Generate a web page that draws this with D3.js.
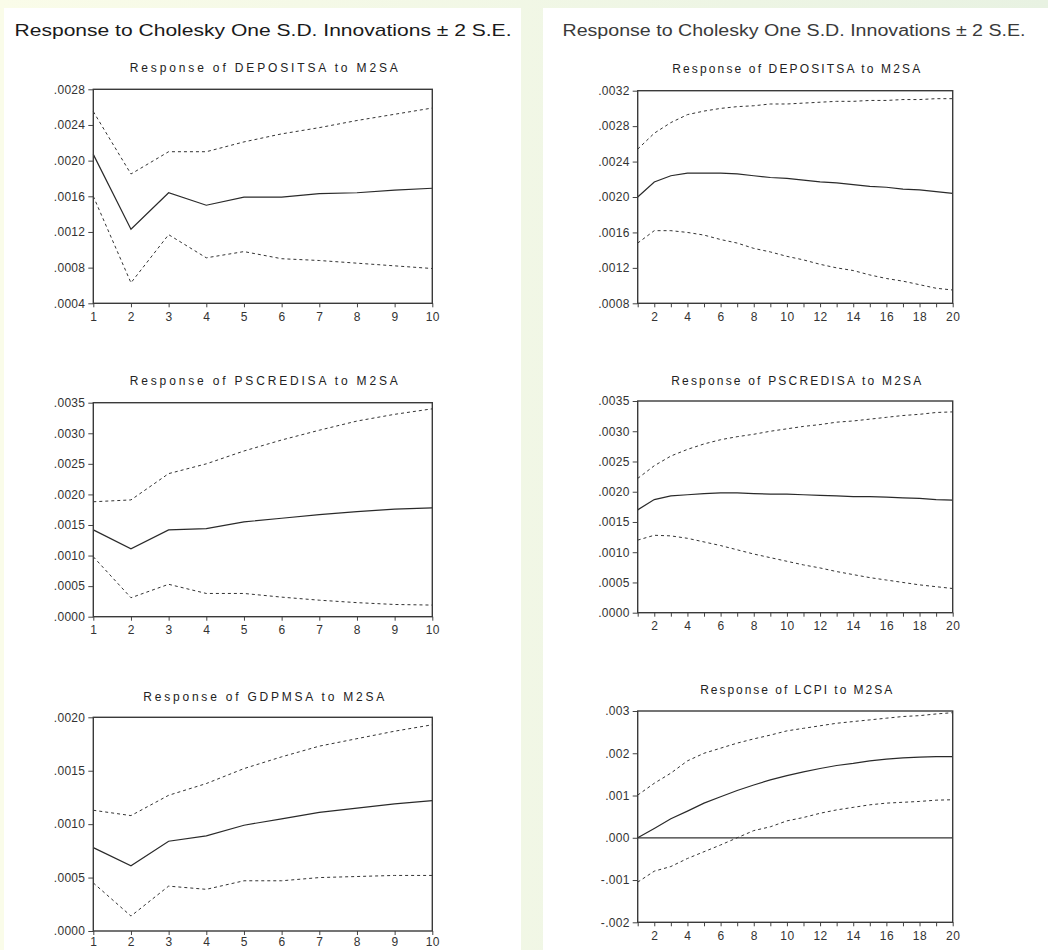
<!DOCTYPE html>
<html>
<head>
<meta charset="utf-8">
<script src="https://cdn.jsdelivr.net/npm/d3@7"></script>
<style>
  html, body { margin: 0; padding: 0; }
  body { width: 1048px; height: 950px; overflow: hidden; }
  svg text { font-family: "Liberation Sans", Arial, sans-serif; fill: #222; }
</style>
</head>
<body>
<svg id="chart" width="1048" height="950"></svg>
<script>
// ---------------- DATA ----------------
const mainTitle = "Response to Cholesky One S.D. Innovations \u00b1 2 S.E.";

const periodsShort = [1, 2, 3, 4, 5, 6, 7, 8, 9, 10];
const periodsLong = [1, 2, 3, 4, 5, 6, 7, 8, 9, 10, 11, 12, 13, 14, 15, 16, 17, 18, 19, 20];

// Left column (10 periods)
const depositShortMid = [0.00207, 0.00123, 0.00164, 0.00150, 0.00159, 0.00159, 0.00163, 0.00164, 0.00167, 0.00169];
const depositShortUp  = [0.00255, 0.00185, 0.00210, 0.00210, 0.00221, 0.00230, 0.00237, 0.00245, 0.00252, 0.00259];
const depositShortLo  = [0.00160, 0.00063, 0.00117, 0.00091, 0.00098, 0.00090, 0.00088, 0.00085, 0.00082, 0.00079];

const creditShortMid = [0.00142, 0.00111, 0.00142, 0.00144, 0.00155, 0.00161, 0.00167, 0.00172, 0.00176, 0.00178];
const creditShortUp  = [0.00188, 0.00191, 0.00234, 0.00250, 0.00271, 0.00289, 0.00305, 0.00320, 0.00331, 0.00340];
const creditShortLo  = [0.00098, 0.00031, 0.00053, 0.00038, 0.00038, 0.00032, 0.00027, 0.00023, 0.00020, 0.00019];

const gdpShortMid = [0.00078, 0.00061, 0.00084, 0.00089, 0.00099, 0.00105, 0.00111, 0.00115, 0.00119, 0.00122];
const gdpShortUp  = [0.00113, 0.00108, 0.00127, 0.00138, 0.00152, 0.00163, 0.00173, 0.00180, 0.00187, 0.00193];
const gdpShortLo  = [0.00045, 0.00014, 0.00042, 0.00039, 0.00047, 0.00047, 0.00050, 0.00051, 0.00052, 0.00052];

// Right column (20 periods)
const depositLongMid = [0.00200, 0.00217, 0.00224, 0.00227, 0.00227, 0.00227, 0.00226, 0.00224, 0.00222, 0.00221,
                        0.00219, 0.00217, 0.00216, 0.00214, 0.00212, 0.00211, 0.00209, 0.00208, 0.00206, 0.00204];
const depositLongUp  = [0.00254, 0.00272, 0.00284, 0.00293, 0.00297, 0.00300, 0.00302, 0.00303, 0.00305, 0.00305,
                        0.00306, 0.00307, 0.00308, 0.00308, 0.00309, 0.00309, 0.00310, 0.00310, 0.00311, 0.00311];
const depositLongLo  = [0.00148, 0.00162, 0.00162, 0.00160, 0.00157, 0.00152, 0.00148, 0.00142, 0.00138, 0.00133,
                        0.00129, 0.00124, 0.00120, 0.00117, 0.00112, 0.00108, 0.00105, 0.00101, 0.00097, 0.00095];

const creditLongMid = [0.00170, 0.00187, 0.00193, 0.00195, 0.00197, 0.00198, 0.00198, 0.00197, 0.00196, 0.00196,
                       0.00195, 0.00194, 0.00193, 0.00192, 0.00192, 0.00191, 0.00190, 0.00189, 0.00187, 0.00186];
const creditLongUp  = [0.00222, 0.00243, 0.00259, 0.00270, 0.00279, 0.00286, 0.00291, 0.00295, 0.00300, 0.00304,
                       0.00308, 0.00311, 0.00315, 0.00317, 0.00320, 0.00323, 0.00326, 0.00328, 0.00331, 0.00332];
const creditLongLo  = [0.00120, 0.00128, 0.00127, 0.00123, 0.00117, 0.00111, 0.00104, 0.00097, 0.00091, 0.00085,
                       0.00079, 0.00074, 0.00068, 0.00063, 0.00058, 0.00054, 0.00050, 0.00046, 0.00043, 0.00040];

const cpiLongMid = [0.00000, 0.00022, 0.00045, 0.00063, 0.00082, 0.00097, 0.00112, 0.00125, 0.00137, 0.00147,
                    0.00156, 0.00164, 0.00171, 0.00176, 0.00182, 0.00186, 0.00189, 0.00191, 0.00192, 0.00192];
const cpiLongUp  = [0.00101, 0.00129, 0.00153, 0.00182, 0.00200, 0.00212, 0.00224, 0.00234, 0.00243, 0.00253,
                    0.00259, 0.00265, 0.00271, 0.00275, 0.00279, 0.00283, 0.00287, 0.00289, 0.00293, 0.00296];
const cpiLongLo  = [-0.00105, -0.00079, -0.00068, -0.00049, -0.00033, -0.00017, 0.00000, 0.00017, 0.00026, 0.00040,
                    0.00048, 0.00058, 0.00066, 0.00072, 0.00078, 0.00082, 0.00084, 0.00086, 0.00089, 0.00090];

// Axis ticks
const ticksDepositShort = [0.0004, 0.0008, 0.0012, 0.0016, 0.0020, 0.0024, 0.0028];
const ticksCredit = [0.0000, 0.0005, 0.0010, 0.0015, 0.0020, 0.0025, 0.0030, 0.0035];
const ticksGdp = [0.0000, 0.0005, 0.0010, 0.0015, 0.0020];
const ticksDepositLong = [0.0008, 0.0012, 0.0016, 0.0020, 0.0024, 0.0028, 0.0032];
const ticksCpi = [-0.002, -0.001, 0.000, 0.001, 0.002, 0.003];
const xLabelsLong = [2, 4, 6, 8, 10, 12, 14, 16, 18, 20];

// ---------------- LAYOUT ----------------
const svg = d3.select("#chart");

const defs = svg.append("defs");
const grad = defs.append("linearGradient").attr("id", "bg").attr("x1", "0").attr("x2", "1").attr("y1", "0").attr("y2", "0");
grad.append("stop").attr("offset", "0%").attr("stop-color", "#fafce9");
grad.append("stop").attr("offset", "100%").attr("stop-color", "#e8f2e2");

svg.append("rect").attr("width", 1048).attr("height", 950).attr("fill", "url(#bg)");
svg.append("rect").attr("x", 4).attr("y", 8).attr("width", 517).attr("height", 942).attr("fill", "#ffffff");
svg.append("rect").attr("x", 543).attr("y", 8).attr("width", 505).attr("height", 942).attr("fill", "#ffffff");

svg.append("text").attr("x", 263).attr("y", 36).attr("text-anchor", "middle")
  .attr("font-size", 17).attr("textLength", 497).attr("lengthAdjust", "spacingAndGlyphs")
  .style("fill", "#1a1a1a").text(mainTitle);
svg.append("text").attr("x", 794).attr("y", 36).attr("text-anchor", "middle")
  .attr("font-size", 16).attr("textLength", 463).attr("lengthAdjust", "spacingAndGlyphs")
  .style("fill", "#3a3a3a").text(mainTitle);

const panels = [
  { title: "Response of DEPOSITSA to M2SA", titleW: 268, titleY: 72, xPad: 5,
    x0: 93.3, x1: 432.3, y0: 89.3, y1: 303.3, domain: [0.0004, 0.0028], ticks: ticksDepositShort, dec: 4,
    periods: periodsShort, xLabels: periodsShort, mid: depositShortMid, up: depositShortUp, lo: depositShortLo },
  { title: "Response of PSCREDISA to M2SA", titleW: 268, titleY: 385, xPad: 5,
    x0: 93.3, x1: 432.3, y0: 402.7, y1: 616.7, domain: [0, 0.0035], ticks: ticksCredit, dec: 4,
    periods: periodsShort, xLabels: periodsShort, mid: creditShortMid, up: creditShortUp, lo: creditShortLo },
  { title: "Response of GDPMSA to M2SA", titleW: 241, titleY: 701, xPad: 2,
    x0: 93.3, x1: 432.3, y0: 717.3, y1: 931, domain: [0, 0.0020], ticks: ticksGdp, dec: 4,
    periods: periodsShort, xLabels: periodsShort, mid: gdpShortMid, up: gdpShortUp, lo: gdpShortLo },
  { title: "Response of DEPOSITSA to M2SA", titleW: 248, titleY: 73, xPad: 5,
    x0: 637.7, x1: 952.7, y0: 90.7, y1: 303.3, domain: [0.0008, 0.0032], ticks: ticksDepositLong, dec: 4,
    periods: periodsLong, xLabels: xLabelsLong, mid: depositLongMid, up: depositLongUp, lo: depositLongLo },
  { title: "Response of PSCREDISA to M2SA", titleW: 250, titleY: 385, xPad: 5,
    x0: 637.7, x1: 952.7, y0: 401, y1: 612.7, domain: [0, 0.0035], ticks: ticksCredit, dec: 4,
    periods: periodsLong, xLabels: xLabelsLong, mid: creditLongMid, up: creditLongUp, lo: creditLongLo },
  { title: "Response of LCPI to M2SA", titleW: 192, titleY: 694, xPad: 5,
    x0: 637.7, x1: 952.7, y0: 711, y1: 922.3, domain: [-0.002, 0.003], ticks: ticksCpi, dec: 3, zero: true,
    periods: periodsLong, xLabels: xLabelsLong, mid: cpiLongMid, up: cpiLongUp, lo: cpiLongLo }
];

function fmt(dec) {
  const f = d3.format("." + dec + "f");
  return v => f(Math.abs(v) < 1e-12 ? 0 : v).replace("\u2212", "-").replace("0.", ".");
}

panels.forEach(p => {
  const x = d3.scaleLinear().domain([p.periods[0], p.periods[p.periods.length - 1]]).range([p.x0, p.x1]);
  const y = d3.scaleLinear().domain(p.domain).range([p.y1, p.y0]);
  const g = svg.append("g");

  g.append("text").attr("x", (p.x0 + p.x1) / 2 + 1).attr("y", p.titleY).attr("text-anchor", "middle")
    .attr("font-size", 12).attr("textLength", p.titleW).attr("lengthAdjust", "spacing")
    .style("fill", "#222").text(p.title);

  // y axis
  const ya = g.append("g").attr("transform", `translate(${p.x0},0)`)
    .call(d3.axisLeft(y).tickValues(p.ticks).tickFormat(fmt(p.dec)).tickSize(5).tickPadding(3));
  ya.select(".domain").remove();
  ya.selectAll("line").attr("stroke", "#444").attr("stroke-width", 1);
  ya.selectAll("text").attr("font-size", 12).style("letter-spacing", "0.3px").style("fill", "#333")
    .attr("font-family", "'Liberation Sans', Arial, sans-serif");

  // x axis
  const xa = g.append("g").attr("transform", `translate(0,${p.y1})`)
    .call(d3.axisBottom(x).tickValues(p.periods).tickFormat(d => p.xLabels.includes(d) ? d : "").tickSize(4).tickPadding(p.xPad));
  xa.select(".domain").remove();
  xa.selectAll("line").attr("stroke", "#444").attr("stroke-width", 1);
  xa.selectAll("text").attr("font-size", 12).style("letter-spacing", "0.5px").style("fill", "#333")
    .attr("font-family", "'Liberation Sans', Arial, sans-serif");

  if (p.zero) {
    g.append("line").attr("x1", p.x0).attr("x2", p.x1).attr("y1", y(0)).attr("y2", y(0))
      .attr("stroke", "#333").attr("stroke-width", 1.2);
  }

  const line = d3.line().x((d, i) => x(p.periods[i])).y(d => y(d));
  g.append("path").datum(p.up).attr("d", line).attr("fill", "none")
    .attr("stroke", "#333").attr("stroke-width", 1).attr("stroke-dasharray", "3,3");
  g.append("path").datum(p.lo).attr("d", line).attr("fill", "none")
    .attr("stroke", "#333").attr("stroke-width", 1).attr("stroke-dasharray", "3,3");
  g.append("path").datum(p.mid).attr("d", line).attr("fill", "none")
    .attr("stroke", "#2a2a2a").attr("stroke-width", 1.2);

  // frame
  g.append("rect").attr("x", p.x0).attr("y", p.y0).attr("width", p.x1 - p.x0).attr("height", p.y1 - p.y0)
    .attr("fill", "none").attr("stroke", "#3a3a3a").attr("stroke-width", 1.4);
});
</script>
</body>
</html>
